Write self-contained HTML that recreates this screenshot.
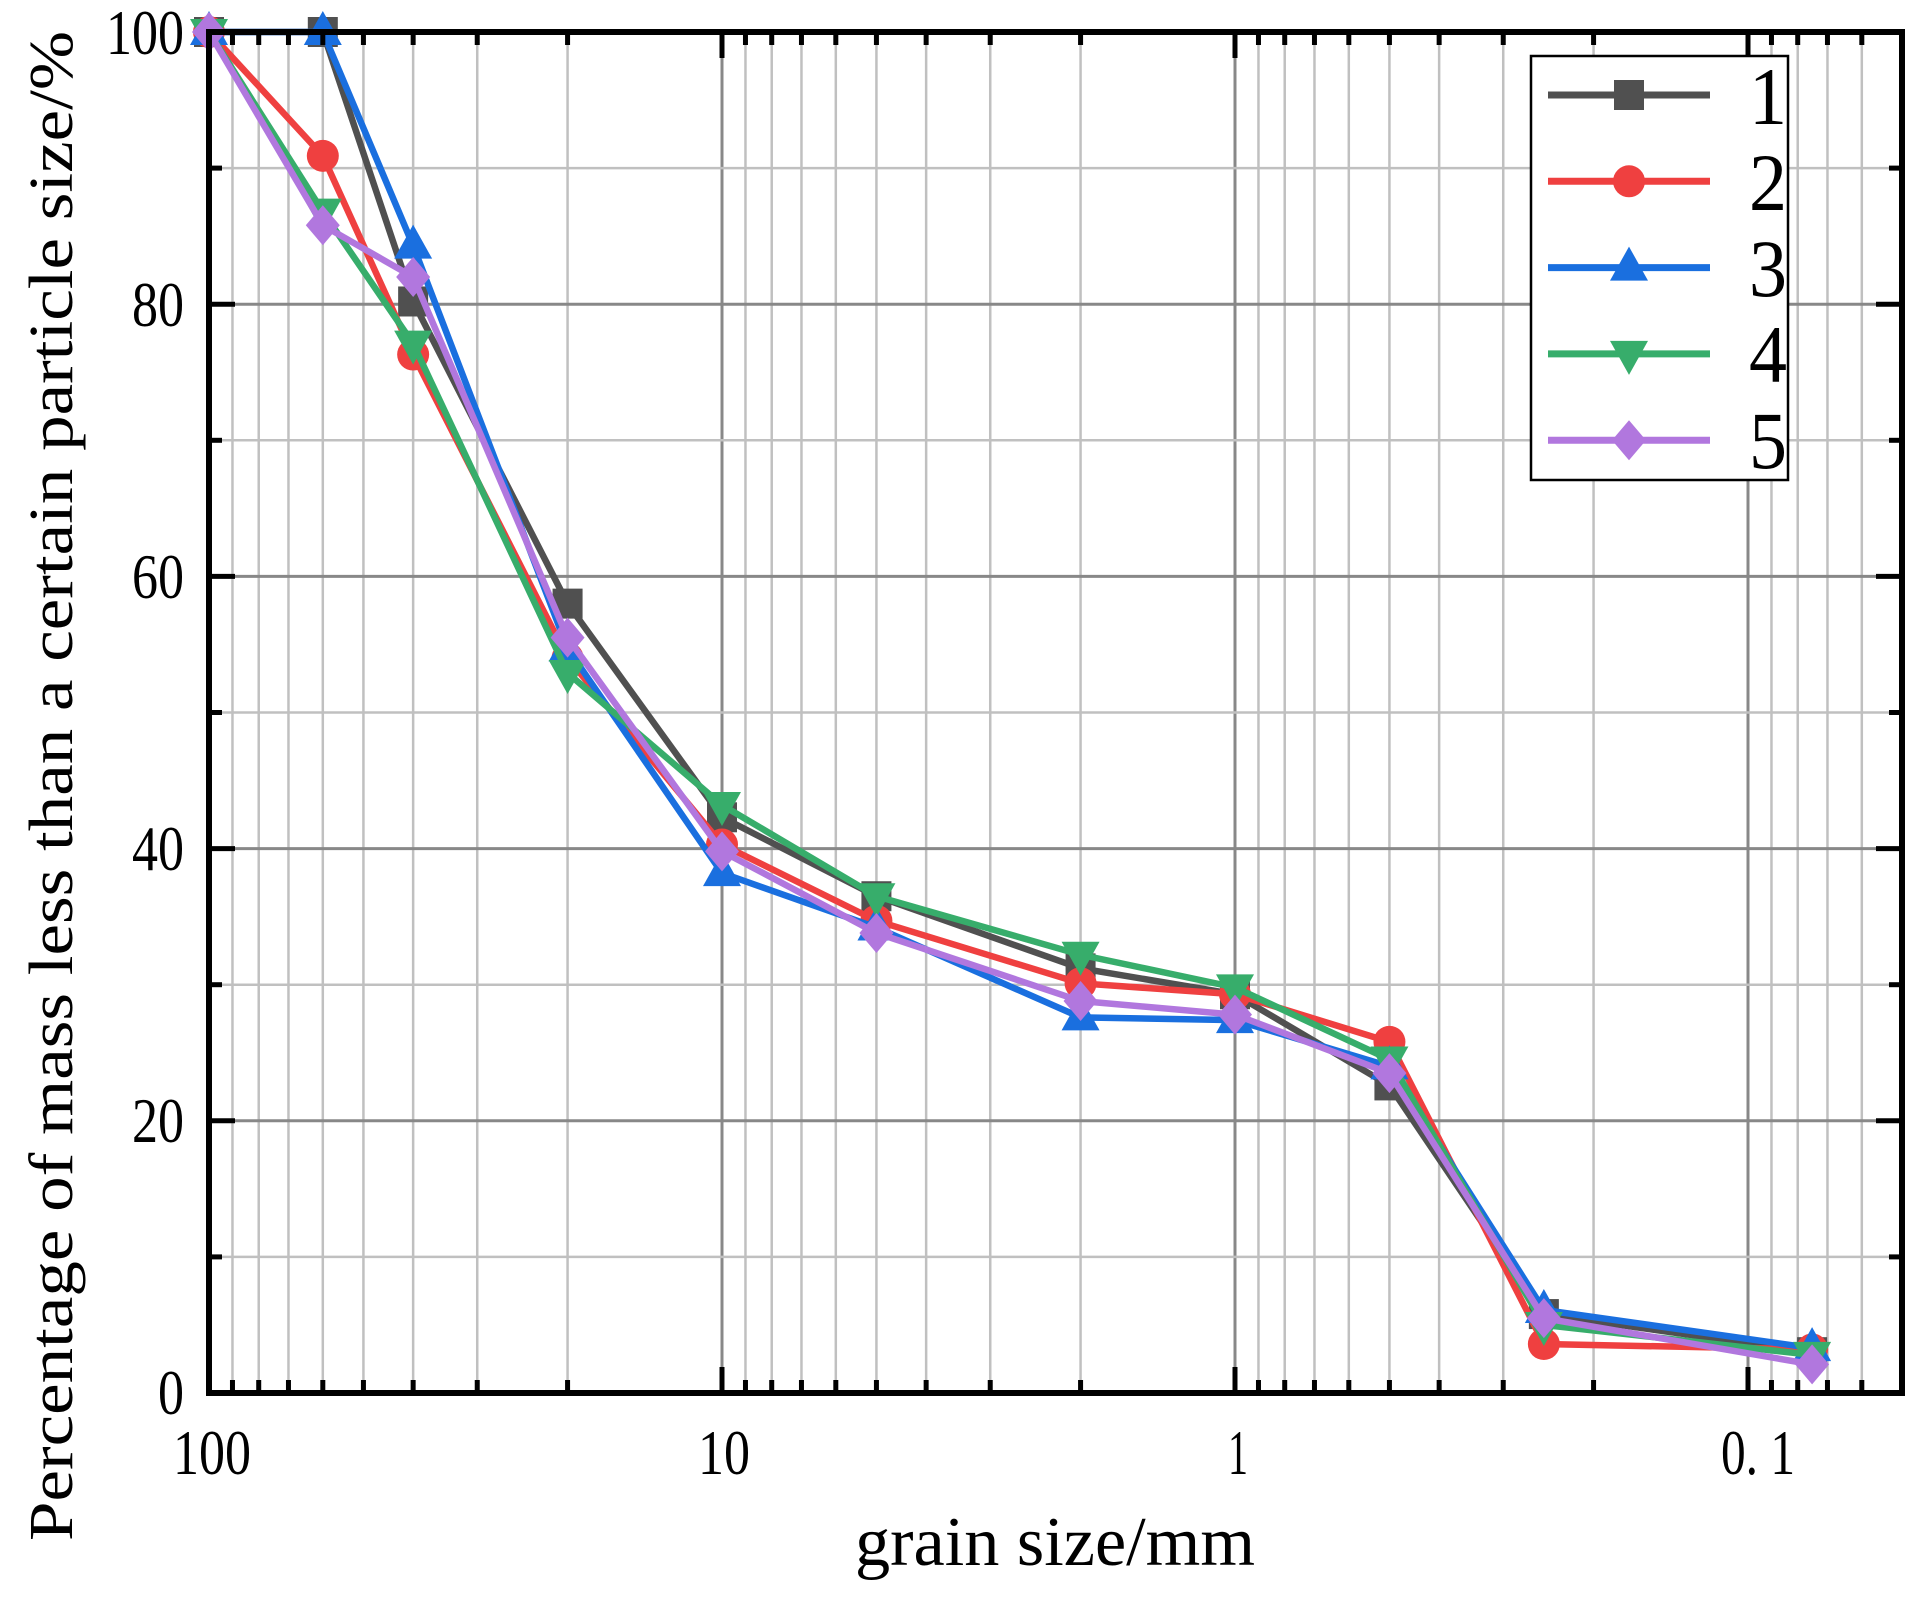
<!DOCTYPE html>
<html><head><meta charset="utf-8"><style>
html,body{margin:0;padding:0;background:#fff;}
svg{display:block;}
text{font-family:"Liberation Serif","Times New Roman",serif;fill:#000;}
</style></head><body>
<svg id="s" width="1930" height="1606" viewBox="0 0 1930 1606" xmlns="http://www.w3.org/2000/svg">
<rect width="1930" height="1606" fill="#fff"/>
<g id="grid"></g>
<g id="series"></g>
<g id="axes"></g>
<g font-size="64" text-anchor="end">
<text x="184" y="54" textLength="78" lengthAdjust="spacingAndGlyphs">100</text>
<text x="184" y="326" textLength="52" lengthAdjust="spacingAndGlyphs">80</text>
<text x="184" y="598" textLength="52" lengthAdjust="spacingAndGlyphs">60</text>
<text x="184" y="870" textLength="52" lengthAdjust="spacingAndGlyphs">40</text>
<text x="184" y="1142" textLength="52" lengthAdjust="spacingAndGlyphs">20</text>
<text x="184" y="1414" textLength="26" lengthAdjust="spacingAndGlyphs">0</text>
</g>
<g font-size="64" text-anchor="middle">
<text x="212" y="1474" textLength="78" lengthAdjust="spacingAndGlyphs">100</text>
<text x="724" y="1474" textLength="52" lengthAdjust="spacingAndGlyphs">10</text>
<text x="1238" y="1474" textLength="20" lengthAdjust="spacingAndGlyphs">1</text>
<text x="1758" y="1474" textLength="74" lengthAdjust="spacingAndGlyphs">0. 1</text>
</g>
<text x="1055" y="1565" font-size="70" text-anchor="middle" textLength="400" lengthAdjust="spacingAndGlyphs">grain size/mm</text>
<text transform="translate(72,786) rotate(-90)" font-size="62" text-anchor="middle" textLength="1510" lengthAdjust="spacingAndGlyphs">Percentage of mass less than a certain particle size/%</text>
<rect x="1531" y="56" width="257" height="424" fill="#fff" stroke="#000" stroke-width="2.5"/>
<g id="legend"></g>
<g font-size="82" text-anchor="middle">
<text x="1768" y="124" textLength="38" lengthAdjust="spacingAndGlyphs">1</text>
<text x="1768" y="210" textLength="38" lengthAdjust="spacingAndGlyphs">2</text>
<text x="1768" y="296" textLength="38" lengthAdjust="spacingAndGlyphs">3</text>
<text x="1768" y="382" textLength="38" lengthAdjust="spacingAndGlyphs">4</text>
<text x="1768" y="468" textLength="38" lengthAdjust="spacingAndGlyphs">5</text>
</g>
</svg>
<script>
var NS="http://www.w3.org/2000/svg";
function el(p,t,a){var e=document.createElementNS(NS,t);for(var k in a)e.setAttribute(k,a[k]);p.appendChild(e);return e;}
var L=209,R=1902,T=32,B=1393;
function X(v){return L+(2-Math.log10(v))*513;}
function Y(p){return B-p*13.61;}
var g=document.getElementById('grid'),ax=document.getElementById('axes');
var decs=[10,1,0.1,0.01];
decs.forEach(function(d){
  for(var k=1;k<=9;k++){var v=k*d;var x=X(v);if(x<L-1||x>R+1)continue;
    var major=(k==1);
    if(x>L+2&&x<R-2) el(g,'line',{x1:x,y1:T,x2:x,y2:B,stroke:major?'#888':'#c0c0c0','stroke-width':major?3:2.5});
    var tl=major?26:13;
    el(ax,'line',{x1:x,y1:B,x2:x,y2:B-tl,stroke:'#000','stroke-width':5});
    el(ax,'line',{x1:x,y1:T,x2:x,y2:T+tl,stroke:'#000','stroke-width':5});
  }
});
for(var p=10;p<100;p+=10){var y=Y(p);var major=(p%20==0);
  el(g,'line',{x1:L,y1:y,x2:R,y2:y,stroke:major?'#888':'#c0c0c0','stroke-width':major?3:2.5});
}
for(var p=0;p<=100;p+=10){var y=Y(p);var tl=(p%20==0)?26:13;
  el(ax,'line',{x1:L,y1:y,x2:L+tl,y2:y,stroke:'#000','stroke-width':5});
  el(ax,'line',{x1:R,y1:y,x2:R-tl,y2:y,stroke:'#000','stroke-width':5});
}
el(ax,'rect',{x:L,y:T,width:R-L,height:B-T,fill:'none',stroke:'#000','stroke-width':6});
var xs=[100,60,40,20,10,5,2,1,0.5,0.25,0.075];
var S=[
 {c:'#505050',m:'sq',d:[100,100,80.2,58,42.3,36.5,31.2,29.3,22.6,5.8,3.0]},
 {c:'#EF4040',m:'ci',d:[100,90.9,76.3,54,40.3,34.7,30.1,29.3,25.8,3.6,3.2]},
 {c:'#1A6FDF',m:'tu',d:[100,100,84.3,54.7,38.2,34.2,27.6,27.4,24.0,6.1,3.3]},
 {c:'#37AD6B',m:'td',d:[100,86.8,77.1,52.9,43.2,36.5,32.2,29.8,24.5,5.0,2.8]},
 {c:'#B177DE',m:'di',d:[100,85.8,82.0,55.5,39.8,33.8,28.8,27.8,23.5,5.5,2.1]}
];
function marker(p,m,x,y,c){
  if(m=='sq')el(p,'rect',{x:x-15,y:y-15,width:30,height:30,fill:c});
  else if(m=='ci')el(p,'circle',{cx:x,cy:y,r:16,fill:c});
  else if(m=='tu')el(p,'polygon',{points:(x)+','+(y-21)+' '+(x+19)+','+(y+13)+' '+(x-19)+','+(y+13),fill:c});
  else if(m=='td')el(p,'polygon',{points:(x)+','+(y+21)+' '+(x+19)+','+(y-13)+' '+(x-19)+','+(y-13),fill:c});
  else el(p,'polygon',{points:x+','+(y-20)+' '+(x+17)+','+y+' '+x+','+(y+20)+' '+(x-17)+','+y,fill:c});
}
var sg=document.getElementById('series'),lg=document.getElementById('legend');
S.forEach(function(s,i){
  var pts=s.d.map(function(v,j){return X(xs[j])+','+Y(v);}).join(' ');
  el(sg,'polyline',{points:pts,fill:'none',stroke:s.c,'stroke-width':6.5,'stroke-linejoin':'miter'});
  s.d.forEach(function(v,j){marker(sg,s.m,X(xs[j]),Y(v),s.c);});
  var ly=95+i*86.3;
  el(lg,'line',{x1:1548,y1:ly,x2:1710,y2:ly,stroke:s.c,'stroke-width':7});
  marker(lg,s.m,1629,ly,s.c);
});
</script>
</body></html>
